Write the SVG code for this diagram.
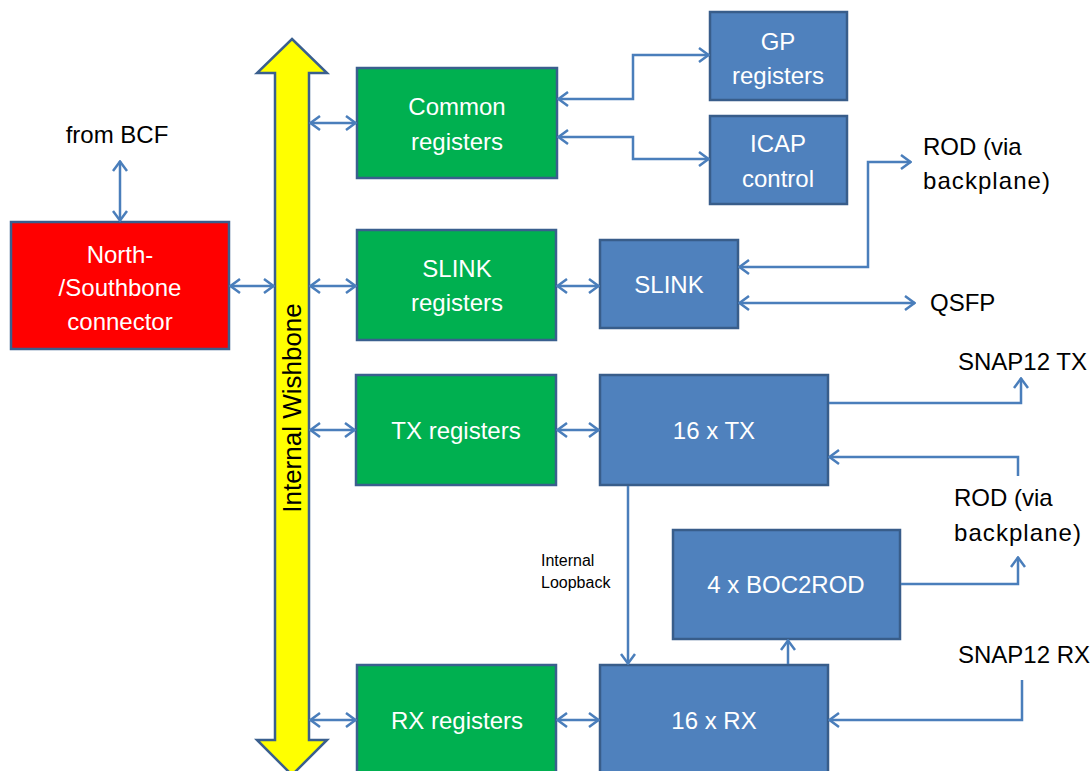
<svg xmlns="http://www.w3.org/2000/svg" width="1091" height="771" viewBox="0 0 1091 771">
<style>
.g{fill:#00b050;stroke:#3a5f8e;stroke-width:2.5}
.b{fill:#4f81bd;stroke:#385d8a;stroke-width:2.5}
.r{fill:#ff0000;stroke:#3a5f8e;stroke-width:2.5}
.w{font-family:"Liberation Sans",Arial,sans-serif;font-size:24px;fill:#ffffff;text-anchor:middle}
.k{font-family:"Liberation Sans",Arial,sans-serif;font-size:24px;fill:#000000}
.s{font-family:"Liberation Sans",Arial,sans-serif;font-size:16px;fill:#000000}
.c{fill:none;stroke:#4a7ebb;stroke-width:2.5}
.a2{marker-start:url(#ah);marker-end:url(#ah)}
.a1{marker-end:url(#ah)}
</style>
<defs>
<marker id="ah" viewBox="0 0 12 16" refX="11" refY="8" markerWidth="12" markerHeight="16" markerUnits="userSpaceOnUse" orient="auto-start-reverse">
<path d="M1,1 L10.5,8 L1,15" fill="none" stroke="#4a7ebb" stroke-width="2.5"/>
</marker>
</defs>
<rect width="1091" height="771" fill="#ffffff"/>
<g id="wishbone">
<path d="M292,39 L327,73 L309,73 L309,740 L327,740 L292,775 L257,740 L275,740 L275,73 L257,73 Z" fill="#ffff00" stroke="#3a5f8e" stroke-width="2.5" stroke-linejoin="miter"/>
<text class="k" transform="translate(301,408) rotate(-90)" text-anchor="middle" style="font-size:26px">Internal Wishbone</text>
</g>
<g id="nsb">
<rect class="r" x="11" y="222" width="218" height="127"/>
<text class="w" x="120" y="263">North-</text>
<text class="w" x="120" y="296">/Southbone</text>
<text class="w" x="120" y="330">connector</text>
</g>
<g id="common">
<rect class="g" x="357" y="68" width="200" height="110"/>
<text class="w" x="457" y="115">Common</text>
<text class="w" x="457" y="150">registers</text>
</g>
<g id="slinkreg">
<rect class="g" x="357" y="230" width="199" height="110"/>
<text class="w" x="457" y="277">SLINK</text>
<text class="w" x="457" y="311">registers</text>
</g>
<g id="txreg">
<rect class="g" x="356" y="375" width="200" height="110"/>
<text class="w" x="456" y="439">TX registers</text>
</g>
<g id="rxreg">
<rect class="g" x="357" y="665" width="199" height="120"/>
<text class="w" x="457" y="729">RX registers</text>
</g>
<g id="gp">
<rect class="b" x="710" y="12" width="137" height="88"/>
<text class="w" x="778" y="50">GP</text>
<text class="w" x="778" y="84">registers</text>
</g>
<g id="icap">
<rect class="b" x="710" y="116" width="137" height="88"/>
<text class="w" x="778" y="152">ICAP</text>
<text class="w" x="778" y="187">control</text>
</g>
<g id="slink">
<rect class="b" x="600" y="240" width="138" height="88"/>
<text class="w" x="669" y="293">SLINK</text>
</g>
<g id="tx">
<rect class="b" x="600" y="375" width="228" height="110"/>
<text class="w" x="714" y="439">16 x TX</text>
</g>
<g id="boc">
<rect class="b" x="673" y="530" width="227" height="109"/>
<text class="w" x="786" y="593">4 x BOC2ROD</text>
</g>
<g id="rx">
<rect class="b" x="600" y="665" width="228" height="120"/>
<text class="w" x="714" y="729">16 x RX</text>
</g>
<g id="labels">
<text class="k" x="117" y="143" text-anchor="middle">from BCF</text>
<text class="k" x="923" y="155">ROD (via</text>
<text class="k" x="923" y="189" textLength="127">backplane)</text>
<text class="k" x="930" y="311">QSFP</text>
<text class="k" x="958" y="370">SNAP12 TX</text>
<text class="k" x="954" y="506">ROD (via</text>
<text class="k" x="954" y="541" textLength="127">backplane)</text>
<text class="k" x="958" y="663">SNAP12 RX</text>
<text class="s" x="541" y="566">Internal</text>
<text class="s" x="541" y="588">Loopback</text>
</g>
<g id="connectors">
<path class="c a2" d="M120,161 L120,221"/>
<path class="c a2" d="M230,286 L274,286"/>
<path class="c a2" d="M310,123 L356,123"/>
<path class="c a2" d="M310,286 L356,286"/>
<path class="c a2" d="M310,430 L355,430"/>
<path class="c a2" d="M310,720 L356,720"/>
<path class="c a2" d="M558,99 L633,99 L633,55 L709,55"/>
<path class="c a2" d="M558,137 L633,137 L633,159 L709,159"/>
<path class="c a2" d="M557,286 L599,286"/>
<path class="c a2" d="M739,267 L868,267 L868,162 L911,162"/>
<path class="c a2" d="M739,303 L915,303"/>
<path class="c a2" d="M557,430 L599,430"/>
<path class="c a1" d="M829,403 L1021,403 L1021,378"/>
<path class="c a1" d="M1018,476 L1018,457 L829,457"/>
<path class="c a1" d="M901,584 L1018,584 L1018,557"/>
<path class="c a1" d="M628,486 L628,664"/>
<path class="c a1" d="M788,664 L788,640"/>
<path class="c a2" d="M557,720 L599,720"/>
<path class="c a1" d="M1022,680 L1022,720 L829,720"/>
</g>
</svg>
